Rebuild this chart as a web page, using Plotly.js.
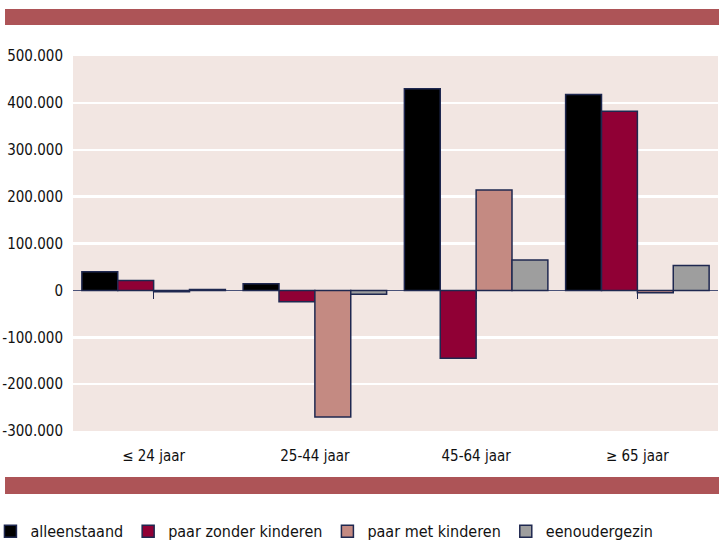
<!DOCTYPE html>
<html>
<head>
<meta charset="utf-8">
<script src="https://cdn.plot.ly/plotly-3.0.1.min.js"></script>
<style>
  html, body { margin: 0; padding: 0; background: #fff; }
  #chart { width: 719px; height: 542px; }
</style>
</head>
<body>
<div id="chart"></div>
<script>
// leeftijdsklassen op de x-as
var categories = ['\u2264 24 jaar', '25-44 jaar', '45-64 jaar', '\u2265 65 jaar'];

// toename/afname aantal huishoudens per type
var alleenstaand = [40000, 14000, 430000, 418000];
var paarZonder   = [21000, -24000, -145000, 382000];
var paarMet      = [-3000, -270000, 214000, -5000];
var eenouder     = [2000, -8000, 65000, 53000];

var seriesNames = ['alleenstaand', 'paar zonder kinderen', 'paar met kinderen', 'eenoudergezin'];
var seriesColors = ['#000000', '#900035', '#C48A82', '#9E9E9E'];
var yTicks = [-300000, -200000, -100000, 0, 100000, 200000, 300000, 400000, 500000];

var font = '"DejaVu Sans Condensed", "Liberation Sans", sans-serif';
var band = '#AD5457';

// duizendtallen met een punt, min-teken als streepje
function fmt(v) {
    var s = String(Math.abs(v)).replace(/\B(?=(\d{3})+(?!\d))/g, '.');
    return (v < 0 ? '-' : '') + s;
}

var values = [alleenstaand, paarZonder, paarMet, eenouder];
var data = values.map(function (v, i) {
    return {
        type: 'bar',
        x: categories,
        y: v,
        name: seriesNames[i],
        marker: {color: seriesColors[i], line: {color: '#1F2850', width: 1.5}},
        hoverinfo: 'name+y'
    };
});

// de x-as ligt op de nullijn: fractie van het bereik
var yMin = -300000, yMax = 500000;
var zeroPos = (0 - yMin) / (yMax - yMin);

var layout = {
    width: 719,
    height: 542,
    margin: {l: 73, r: 1, t: 56, b: 111, autoexpand: false},
    paper_bgcolor: '#ffffff',
    plot_bgcolor: '#F2E6E2',
    font: {family: font, size: 15, color: '#111111'},
    barmode: 'group',
    bargap: 0.11,
    bargroupgap: 0,
    showlegend: true,
    legend: {
        orientation: 'h',
        x: -0.128, xanchor: 'left',
        y: -0.222, yanchor: 'top',
        font: {family: font, size: 16, color: '#111111'},
        traceorder: 'normal',
        itemwidth: 30
    },
    xaxis: {
        type: 'category',
        anchor: 'free',
        position: zeroPos,
        automargin: false,
        showgrid: false,
        showline: false,
        ticks: 'outside',
        ticklen: 8,
        tickwidth: 1,
        tickcolor: '#1F2850',
        ticklabelstandoff: 144,
        layer: 'below traces',
        tickfont: {family: font, size: 15, color: '#111111'}
    },
    yaxis: {
        range: [yMin, yMax],
        automargin: false,
        tickvals: yTicks,
        ticktext: yTicks.map(fmt),
        showgrid: true,
        gridcolor: '#ffffff',
        gridwidth: 2.5,
        zeroline: true,
        zerolinecolor: '#4A5278',
        zerolinewidth: 1,
        showline: false,
        ticks: '',
        ticklabelstandoff: 9,
        tickfont: {family: font, size: 15, color: '#111111'}
    },
    shapes: [
        {type: 'rect', xref: 'paper', yref: 'paper', x0: -0.1054, x1: 1.002, y0: 1.083, y1: 1.1253,
         fillcolor: band, line: {width: 0}},
        {type: 'rect', xref: 'paper', yref: 'paper', x0: -0.1054, x1: 1.002, y0: -0.168, y1: -0.1227,
         fillcolor: band, line: {width: 0}}
    ]
};

Plotly.newPlot('chart', data, layout, {displayModeBar: false, staticPlot: true});
</script>
</body>
</html>
